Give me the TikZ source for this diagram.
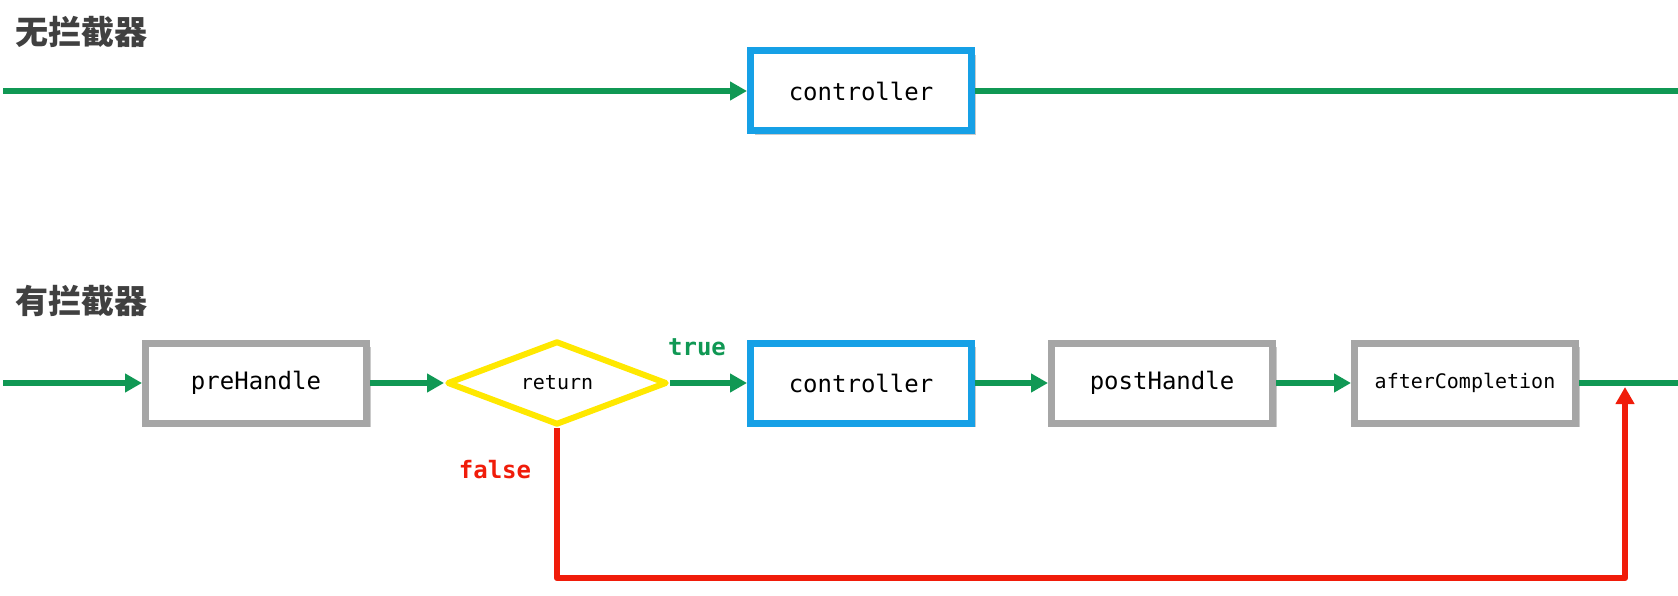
\documentclass[tikz,border=0pt]{standalone}
\usepackage{fontspec}
\newfontfamily\cjkfont{Noto Sans CJK SC}
\setmonofont{DejaVu Sans Mono}
\usetikzlibrary{arrows.meta,shapes.geometric,shadows}
\definecolor{flowgreen}{RGB}{16,152,84}
\definecolor{ctrlblue}{RGB}{22,160,230}
\definecolor{boxgray}{RGB}{166,166,166}
\definecolor{diayellow}{RGB}{255,232,0}
\definecolor{falsered}{RGB}{240,28,10}
\definecolor{titlegray}{RGB}{64,64,64}
\tikzset{
  softshadow/.style={drop shadow={shadow xshift=4pt,shadow yshift=-4pt,opacity=0.35,fill=black!60}},
  stepbox/.style={draw=boxgray,line width=7pt,fill=white,minimum width=221pt,minimum height=80pt,inner sep=0pt,
    font=\ttfamily\fontsize{24}{24}\selectfont,softshadow},
  ctrlbox/.style={stepbox,draw=ctrlblue},
  decision/.style={diamond,draw=diayellow,line width=6pt,line join=round,fill=white,aspect=2.6,
    minimum width=220pt,minimum height=84pt,inner sep=0pt,font=\ttfamily\fontsize{20}{20}\selectfont},
  garrow/.style={draw=flowgreen,line width=6.5pt,-{Triangle[length=17pt,width=18pt]}},
  gline/.style={draw=flowgreen,line width=6.5pt},
  rarrow/.style={draw=falsered,line width=6.5pt,line join=round,-{Triangle[length=17pt,width=18pt]}},
  heading/.style={anchor=west,text=titlegray,font=\cjkfont\bfseries\fontsize{33}{33}\selectfont,inner sep=0pt},
  branch/.style={font=\ttfamily\bfseries\fontsize{24}{24}\selectfont,inner sep=0pt},
}
\begin{document}
\begin{tikzpicture}[x=1pt,y=-1pt]
\useasboundingbox (0,0) rectangle (1678,596);
% titles
\node[heading] (t1) at (15,32) {无拦截器};
\node[heading] (t2) at (15,301) {有拦截器};
% top row
\coordinate (a0) at (3,91);
\coordinate (a1) at (1678,91);
\node[ctrlbox] (ctrl0) at (861,91) {controller};
\draw[garrow] (a0) -- (ctrl0.west);
\draw[gline] (ctrl0.east) -- (a1);
% bottom row
\coordinate (b0) at (3,383);
\coordinate (b1) at (1678,383);
\node[stepbox] (pre) at (256,383) {preHandle};
\node[decision] (ret) at (557,383) {return};
\node[ctrlbox] (ctrl) at (861,383) {controller};
\node[stepbox] (post) at (1162,383) {postHandle};
\node[stepbox,font=\ttfamily\fontsize{20}{20}\selectfont] (after) at (1465,383) {afterCompletion};
\draw[garrow] (b0) -- (pre.west);
\draw[garrow] (pre.east) -- (ret.west);
\draw[garrow] (ret.east) -- (ctrl.west);
\draw[garrow] (ctrl.east) -- (post.west);
\draw[garrow] (post.east) -- (after.west);
\draw[gline] (after.east) -- (b1);
% false branch
\coordinate (bot) at (0,578);
\coordinate (join) at (1625,387);
\draw[rarrow] (ret.south) -- (ret.south |- bot) -| (join);
% labels
\node[branch,text=flowgreen] (lt) at (697,347) {true};
\node[branch,text=falsered] (lf) at (495,470) {false};
\end{tikzpicture}
\end{document}
